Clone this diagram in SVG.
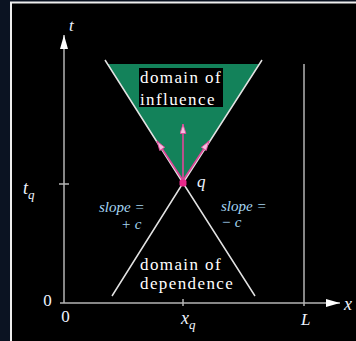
<svg xmlns="http://www.w3.org/2000/svg" width="356" height="341" viewBox="0 0 356 341">
<defs>
<style>
.lbl{font-family:"Liberation Serif",serif;fill:#eef4ff}
.it{font-style:italic}
.slope{font-family:"Liberation Serif",serif;font-style:italic;font-size:15px;fill:#a6d6f2}
.box{font-family:"Liberation Serif",serif;font-size:17px;fill:#ffffff;letter-spacing:1.4px}
.axis{stroke:#b4b4b4;stroke-width:1.5;fill:none}
.cone{stroke:#e2e2e2;stroke-width:1.5;fill:none}
.pink{stroke:#e2469a;stroke-width:1.6;fill:none}
</style>
<marker id="ah" viewBox="0 0 14 8" refX="14" refY="4" markerWidth="14" markerHeight="8" markerUnits="userSpaceOnUse" orient="auto"><path d="M0,0 L14,4 L0,8 z" fill="#ffffff"/></marker>
<marker id="pk" viewBox="0 0 10 7" refX="10" refY="3.5" markerWidth="10" markerHeight="7" markerUnits="userSpaceOnUse" orient="auto"><path d="M0.5,0.5 L9.5,3.5 L0.5,6.5 z" fill="#f7bde0" stroke="#e2469a" stroke-width="0.8"/></marker>
</defs>
<rect x="0" y="0" width="356" height="341" fill="#0b1322"/>
<rect x="11" y="2.5" width="360" height="360" fill="#000000" stroke="#eeeeee" stroke-width="2"/>

<g id="domain-influence">
<polygon points="107.5,64 259.5,64 183,183" fill="#13825a"/>
<rect x="139" y="68" width="84" height="39" fill="#000000"/>
<text class="box" x="140" y="83">domain of</text>
<text class="box" x="140" y="105">influence</text>
</g>

<g id="domain-dependence">
<text class="box" x="140" y="270">domain of</text>
<text class="box" x="140" y="289">dependence</text>
</g>

<g id="connectors">
<line class="axis" x1="64" y1="303" x2="64" y2="35" marker-end="url(#ah)"/>
<line class="axis" x1="60" y1="303" x2="340" y2="303" marker-end="url(#ah)"/>
<line class="axis" x1="304" y1="64" x2="304" y2="306"/>
<line class="axis" x1="59" y1="184" x2="69" y2="184"/>
<line class="axis" x1="183" y1="299" x2="183" y2="306"/>
<polyline class="cone" points="105,60 183,183 262,60"/>
<polyline class="cone" points="112,296 183,183 255,296"/>
<line class="pink" x1="183" y1="183" x2="183" y2="124" marker-end="url(#pk)"/>
<line class="pink" x1="184" y1="182" x2="157" y2="141" marker-end="url(#pk)"/>
<line class="pink" x1="182" y1="182" x2="209" y2="141" marker-end="url(#pk)"/>
</g>

<g id="q">
<rect x="179.5" y="179.5" width="7" height="7" rx="2" fill="#e8288a"/>
<text class="lbl it" x="197" y="187" font-size="17">q</text>
</g>

<g id="labels">
<text class="lbl it" x="69" y="31" font-size="17">t</text>
<text class="lbl it" x="23" y="194" font-size="18">t<tspan font-size="13" dy="5">q</tspan></text>
<text class="lbl" x="47.5" y="306" font-size="17" text-anchor="middle">0</text>
<text class="lbl" x="65.5" y="322" font-size="17" text-anchor="middle">0</text>
<text class="lbl it" x="181" y="324" font-size="18">x<tspan font-size="13" dy="5">q</tspan></text>
<text class="lbl it" x="301" y="325" font-size="17">L</text>
<text class="lbl it" x="344" y="310" font-size="18">x</text>
<text class="slope" x="99" y="212">slope =</text>
<text class="slope" x="121" y="229">+ c</text>
<text class="slope" x="221" y="211">slope =</text>
<text class="slope" x="221" y="227">− c</text>
</g>
</svg>
